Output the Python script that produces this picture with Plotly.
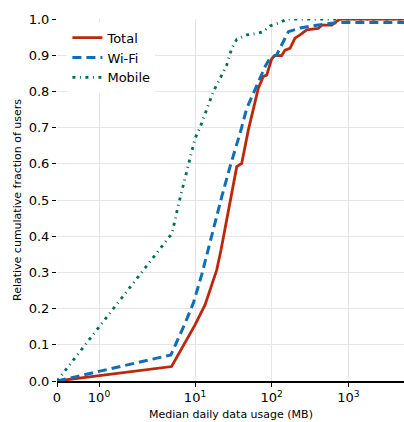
import numpy as np
import plotly.graph_objects as go

# ---- data (x in MB, y = cumulative fraction) ----
total_x = [0, 5.7, 10, 13.5, 19.2, 21.8, 35, 40.6, 49.5, 57.5, 66.9, 77.6, 86, 100, 110,
           135, 149, 173, 201, 234, 286, 405, 449, 606, 704, 777, 6000]
total_y = [0, 0.040, 0.155, 0.21, 0.307, 0.362, 0.592, 0.601, 0.693, 0.753, 0.809, 0.841, 0.845,
           0.89, 0.899, 0.899, 0.914, 0.919, 0.947, 0.956, 0.970, 0.974, 0.983, 0.983, 0.992, 1.0, 1.0]

wifi_x = [0, 5.6, 7.86, 9.6, 12.2, 14.2, 18.2, 22.3, 28.6, 38.6, 47.2, 60.5, 70.3, 81.8, 95,
          116, 165, 234, 386, 704, 6000]
wifi_y = [0, 0.072, 0.159, 0.215, 0.293, 0.348, 0.436, 0.509, 0.592, 0.684, 0.753, 0.804,
          0.836, 0.868, 0.892, 0.901, 0.965, 0.975, 0.983, 0.99, 0.99]

mobile_x = [0, 5.77, 6.7, 7.55, 8.5, 10, 11.6, 14.2, 17.3, 22.3, 25.9, 30.1, 35, 47.2, 63.7,
            77.6, 95, 128, 157, 6000]
mobile_y = [0, 0.408, 0.486, 0.541, 0.592, 0.670, 0.700, 0.749, 0.799, 0.845, 0.873, 0.919,
            0.944, 0.956, 0.960, 0.965, 0.981, 0.990, 1.0, 1.0]

tick_vals_mb = [0, 1, 10, 100, 1000]
tick_text = ["0", "10<sup>0</sup>", "10<sup>1</sup>", "10<sup>2</sup>", "10<sup>3</sup>"]

x_title = "Median daily data usage (MB)"
y_title = "Relative cumulative fraction of users"

# ---- axis scale (symlog-like): linear on [0,1], stretched log on [1,10], log above ----
F0, F1 = -0.80, -0.252


def scale(x):
    x = np.asarray(x, dtype=float)
    out = np.empty_like(x)
    lo = x <= 1
    mid = (x > 1) & (x <= 10)
    hi = x > 10
    out[lo] = F0 + x[lo] * (F1 - F0)
    out[mid] = F1 + np.log10(x[mid]) * (1 - F1)
    out[hi] = np.log10(x[hi])
    return out


fig = go.Figure()
fig.add_trace(go.Scatter(x=scale(total_x), y=total_y, mode="lines", name="Total",
                         line=dict(color="#bb280b", width=2.8)))
fig.add_trace(go.Scatter(x=scale(wifi_x), y=wifi_y, mode="lines", name="Wi-Fi",
                         line=dict(color="#0f6fb6", width=3, dash="9px,5px")))
fig.add_trace(go.Scatter(x=scale(mobile_x), y=mobile_y, mode="lines", name="Mobile",
                         line=dict(color="#006e57", width=2.8, dash="3px,4.5px,1px,4.5px")))

fig.update_layout(
    width=404, height=422,
    margin=dict(l=57, r=0, t=19, b=41),
    paper_bgcolor="white", plot_bgcolor="white",
    font=dict(family="DejaVu Sans", size=13, color="black"),
    showlegend=True,
    legend=dict(x=0.03, y=0.99, xanchor="left", yanchor="top",
                bgcolor="white", borderwidth=0, font=dict(size=13),
                itemwidth=30, tracegroupgap=0),
    annotations=[
        dict(text=x_title, xref="paper", yref="paper", x=0.5, y=-33 / 362,
             xanchor="center", yanchor="middle", showarrow=False, font=dict(size=11)),
        dict(text=y_title, xref="paper", yref="paper", x=-40 / 347, y=0.5,
             xanchor="center", yanchor="middle", showarrow=False, textangle=-90,
             font=dict(size=11)),
    ],
)
fig.update_xaxes(
    automargin=False,
    range=[F0, 3.725], tickmode="array",
    tickvals=scale(tick_vals_mb), ticktext=tick_text,
    showgrid=True, gridcolor="#e5e5e5", gridwidth=1.3, zeroline=False,
    showline=True, linecolor="black", linewidth=1.5,
    ticks="outside", ticklen=4, tickcolor="black",
    tickfont=dict(size=13),
)
fig.update_yaxes(
    automargin=False,
    range=[0, 1.0], tickmode="array",
    tickvals=[i / 10 for i in range(11)],
    ticktext=[f"{i / 10:.1f}" for i in range(11)],
    showgrid=True, gridcolor="#e5e5e5", gridwidth=1.3, zeroline=False,
    showline=False, ticks="outside", ticklen=4, tickcolor="black",
    tickfont=dict(size=13),
)

fig.write_html("out.html", config={"displayModeBar": False},
               post_script="document.body.style.margin='0';document.body.style.overflow='hidden';")
